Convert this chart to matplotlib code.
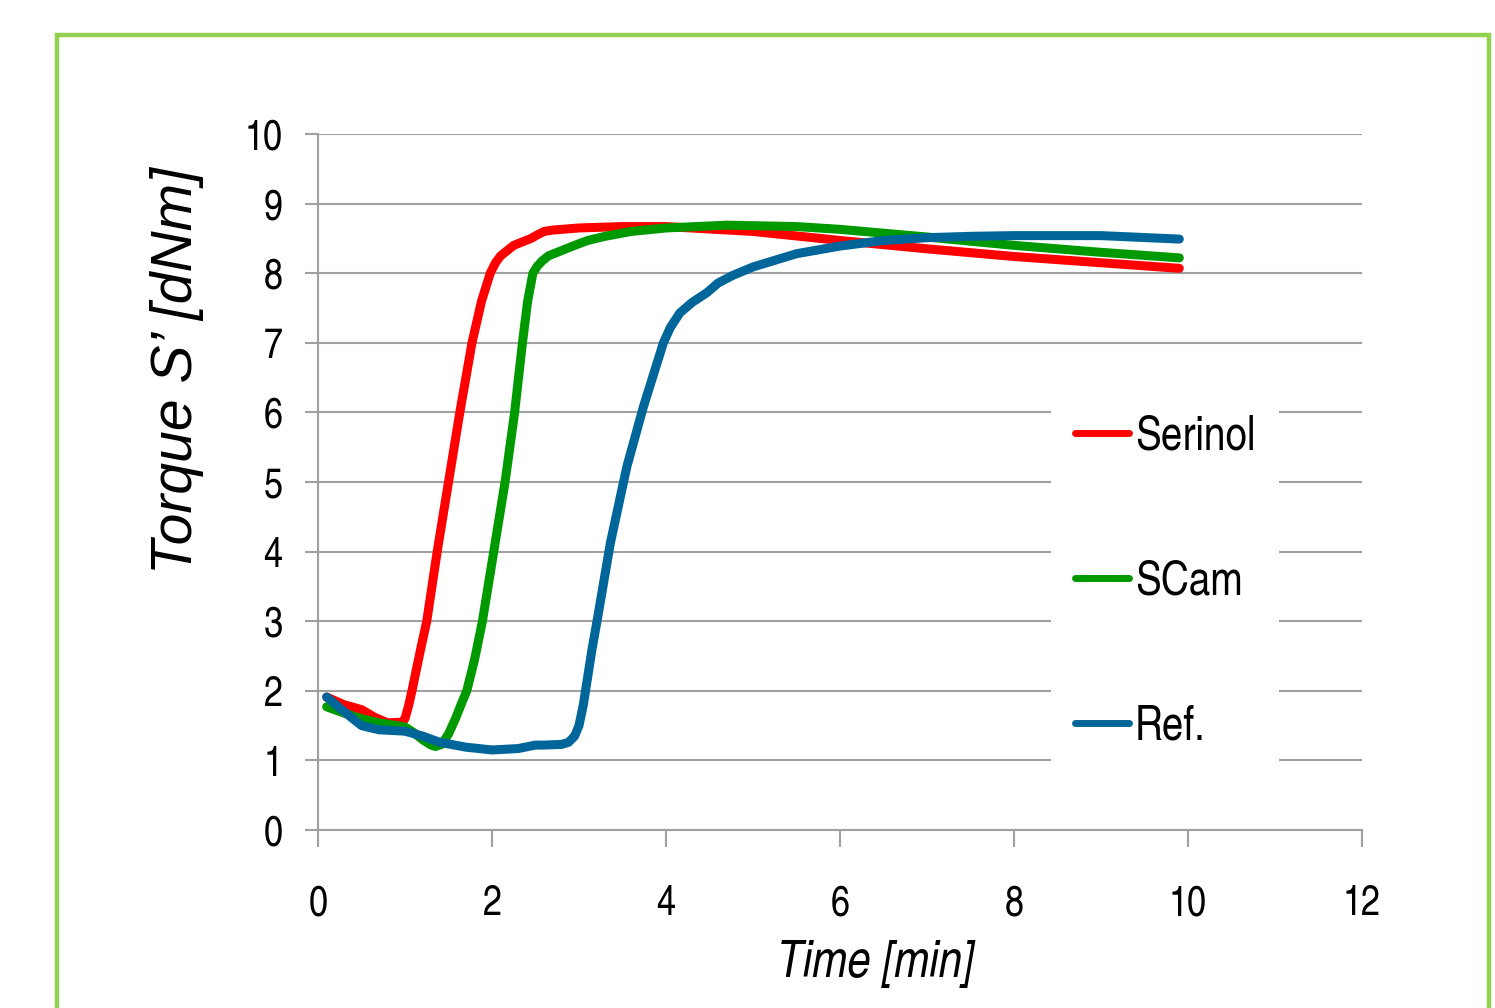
import matplotlib
matplotlib.use("Agg")
import matplotlib.pyplot as plt
from matplotlib.patches import Rectangle

# data
t_serinol = [0.1, 0.3, 0.5, 0.65, 0.8, 0.97, 1.0, 1.04, 1.08, 1.13, 1.18, 1.25, 1.37, 1.5, 1.63,
             1.77, 1.88, 1.98, 2.04, 2.1, 2.18, 2.25, 2.35, 2.45, 2.52, 2.6, 2.7, 2.8, 3.0, 3.5,
             4.0, 5.0, 6.0, 7.0, 8.0, 9.0, 9.9]
serinol = [1.91, 1.8, 1.73, 1.62, 1.54, 1.55, 1.6, 1.78, 2.0, 2.3, 2.6, 3.0, 4.0, 5.0, 6.0,
           7.0, 7.6, 8.0, 8.15, 8.25, 8.33, 8.4, 8.45, 8.5, 8.55, 8.6, 8.62, 8.63, 8.65, 8.67,
           8.67, 8.6, 8.47, 8.35, 8.24, 8.15, 8.07]

t_scam = [0.1, 0.3, 0.5, 0.7, 0.9, 1.0, 1.1, 1.2, 1.3, 1.35, 1.42, 1.5, 1.58, 1.65, 1.71, 1.8,
          1.89, 2.02, 2.15, 2.26, 2.35, 2.41, 2.47, 2.52, 2.58, 2.65, 2.75, 2.85, 2.95, 3.1, 3.3,
          3.6, 4.0, 4.7, 5.5, 6.0, 7.0, 8.0, 9.0, 9.9]
scam = [1.77, 1.68, 1.6, 1.54, 1.5, 1.48, 1.4, 1.3, 1.22, 1.2, 1.23, 1.38, 1.6, 1.82, 2.0, 2.45,
        3.0, 4.0, 5.0, 6.0, 7.0, 7.6, 8.0, 8.1, 8.18, 8.25, 8.3, 8.35, 8.4, 8.47, 8.53,
        8.6, 8.65, 8.69, 8.67, 8.63, 8.52, 8.4, 8.3, 8.22]

t_ref = [0.1, 0.3, 0.5, 0.7, 1.0, 1.2, 1.4, 1.7, 2.0, 2.3, 2.5, 2.6, 2.8, 2.88, 2.95, 3.0, 3.05,
         3.1, 3.15, 3.21, 3.36, 3.55, 3.74, 3.97, 4.05, 4.16, 4.3, 4.47, 4.6, 4.77, 5.0, 5.5,
         6.0, 6.5, 7.0, 7.5, 8.0, 9.0, 9.9]
ref = [1.91, 1.7, 1.5, 1.44, 1.42, 1.35, 1.26, 1.19, 1.15, 1.17, 1.22, 1.22, 1.23, 1.26, 1.35,
       1.5, 1.8, 2.2, 2.6, 3.02, 4.12, 5.22, 6.08, 7.0, 7.22, 7.43, 7.58, 7.72, 7.86, 7.97,
       8.09, 8.28, 8.39, 8.47, 8.51, 8.53, 8.54, 8.54, 8.49]

labels = ["Serinol", "SCam", "Ref."]
colors = ["#FF0000", "#009900", "#006699"]

narrow = ["TeX Gyre Heros Cn", "Liberation Sans", "DejaVu Sans"]
wide = ["Liberation Sans", "TeX Gyre Heros", "DejaVu Sans"]
grid_gray = "#A0A0A0"

fig = plt.figure(figsize=(14.95, 10.08), dpi=100)
ax = fig.add_axes([318 / 1495, 1 - 830 / 1008, 1044 / 1495, 696 / 1008])

# light green frame around the chart area (runs off the bottom edge)
fig.patches.append(Rectangle((57 / 1495, -0.05), (1489 - 57) / 1495, 1 - 35 / 1008 + 0.05,
                             transform=fig.transFigure, fill=False, edgecolor="#92D050",
                             linewidth=3.2, clip_on=False))

for t, y, lab, c in zip([t_serinol, t_scam, t_ref], [serinol, scam, ref], labels, colors):
    ax.plot(t, y, color=c, lw=6.5, label=lab, solid_capstyle="round", solid_joinstyle="round")

ax.set_xlim(0, 12)
ax.set_ylim(0, 10)
ax.set_xticks(range(0, 13, 2))
ax.set_yticks(range(0, 11))
ax.grid(axis="y", color=grid_gray, lw=1.5)
ax.set_axisbelow(True)
for s in ["top", "right"]:
    ax.spines[s].set_visible(False)
for s in ["left", "bottom"]:
    ax.spines[s].set_color(grid_gray)
    ax.spines[s].set_linewidth(1.5)
ax.tick_params(axis="y", direction="out", length=9.5, width=1.5, color=grid_gray, pad=16)
ax.tick_params(axis="x", direction="out", length=12, width=1.5, color=grid_gray, pad=27)
for lbl in ax.get_xticklabels() + ax.get_yticklabels():
    lbl.set_family(narrow)
    lbl.set_fontsize(30)

ax.set_xlabel("Time [min]", family=narrow, style="italic", fontsize=37)
ax.xaxis.label.set_va("center")
ax.xaxis.set_label_coords((875 - 318) / 1044, (830 - 964) / 696)
ax.set_ylabel("Torque S\u2019 [dNm]", family=wide, style="italic", fontsize=41)
ax.yaxis.label.set_va("center")
ax.yaxis.set_label_coords((177 - 318) / 1044, (830 - 370) / 696)

leg = ax.legend(loc="center", bbox_to_anchor=(1165 / 1495, 1 - 582 / 1008),
                bbox_transform=fig.transFigure, frameon=True, fancybox=False,
                prop={"family": narrow, "size": 34}, handlelength=1.15, handletextpad=0.12,
                labelspacing=2.12, borderpad=0.5, borderaxespad=0)
leg.get_frame().set_facecolor("white")
leg.get_frame().set_edgecolor("none")
leg.get_frame().set_alpha(1)
for h in leg.get_lines():
    h.set_linewidth(5)

fig.savefig("out.png", dpi=100)
